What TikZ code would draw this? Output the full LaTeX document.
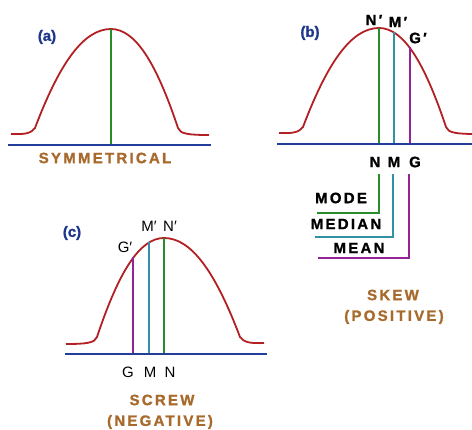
\documentclass[tikz,border=0pt]{standalone}
\usepackage{fontspec}
\setmainfont{Liberation Sans}
\newfontfamily\spacedfont[LetterSpace=15,BoldFeatures={FakeBold=1.2}]{Liberation Sans}
\newfontfamily\tagfont[BoldFeatures={FakeBold=1.2}]{Liberation Sans}
\definecolor{curvered}{RGB}{178,32,36}
\definecolor{baseblue}{RGB}{34,62,154}
\definecolor{modegreen}{RGB}{40,140,40}
\definecolor{medteal}{RGB}{50,145,165}
\definecolor{meanpurple}{RGB}{150,35,150}
\definecolor{titlebrown}{RGB}{168,106,44}
\definecolor{tagblue}{RGB}{30,55,140}
\newcommand\bellshape{(-100,105) .. controls (-86,105.5) and (-80,104.5) .. (-76,99) .. controls (-51,33) and (-27,0) .. (0,0) .. controls (24,0) and (45,33) .. (67,99) .. controls (69,105) and (78,106) .. (98,106)}
\begin{document}
\begin{tikzpicture}[x=1pt,y=-1pt,
  bell/.style={draw=curvered, line width=1.8pt},
  baseline/.style={draw=baseblue, line width=1.8pt},
  modeln/.style={draw=modegreen, line width=1.7pt},
  medln/.style={draw=medteal, line width=1.7pt},
  meanln/.style={draw=meanpurple, line width=1.7pt},
  tag/.style={font=\tagfont\fontsize{15}{17}\selectfont\bfseries, text=tagblue, inner sep=0},
  titletext/.style={font=\spacedfont\fontsize{15}{18}\selectfont\bfseries, text=titlebrown, inner sep=0},
  lab/.style={font=\spacedfont\fontsize{15}{18}\selectfont\bfseries, inner sep=0},
  labreg/.style={font=\fontsize{15}{18}\selectfont, inner sep=0}]
\useasboundingbox (0,0) rectangle (472,430);

% ---------- (a) ----------
\begin{scope}[shift={(111,29)}]
  \draw[bell] \bellshape;
\end{scope}
\coordinate (aL) at (8,145);
\coordinate (aR) at (211,145);
\coordinate (aTop) at (111,29);
\coordinate (aBot) at (111,145);
\draw[modeln] (aTop) -- (aBot);
\draw[baseline] (aL) -- (aR);
\node[tag] (atag) at (47,37) {(a)};
\node[titletext] (asym) at (105,158) {SYMMETRICAL};

% ---------- (b) ----------
\begin{scope}[shift={(379,28)}]
  \draw[bell] \bellshape;
\end{scope}
\coordinate (bL) at (277,144);
\coordinate (bR) at (472,144);
\coordinate (bNtop) at (379,28);
\coordinate (bNbot) at (379,144);
\coordinate (bMtop) at (394,32);
\coordinate (bMbot) at (394,144);
\coordinate (bGtop) at (410,47);
\coordinate (bGbot) at (410,144);
\draw[modeln] (bNtop) -- (bNbot);
\draw[medln] (bMtop) -- (bMbot);
\draw[meanln] (bGtop) -- (bGbot);
\draw[baseline] (bL) -- (bR);
\node[tag] (btag) at (310,33) {(b)};
\node[lab] (bNp) at (374,20) {N′};
\node[lab] (bMp) at (398,22) {M′};
\node[lab] (bGp) at (418,38) {G′};
\node[lab] (bN) at (375,162) {N};
\node[lab] (bM) at (394,162) {M};
\node[lab] (bG) at (415,162) {G};
\node[lab] (mode) at (341,198) {MODE};
\node[lab] (median) at (346,224) {MEDIAN};
\node[lab] (mean) at (359,248) {MEAN};
\coordinate (nS) at (379,174);
\coordinate (nE) at (317,213);
\coordinate (mS) at (393,174);
\coordinate (mE) at (315,237);
\coordinate (gS) at (409,174);
\coordinate (gE) at (318,258);
\draw[modeln] (nS) |- (nE);
\draw[medln] (mS) |- (mE);
\draw[meanln] (gS) |- (gE);
\node[titletext] (skew) at (393,295) {SKEW};
\node[titletext] (pos) at (394,317) {(POSITIVE)};

% ---------- (c) ----------
\begin{scope}[shift={(164,238)}, xscale=-1]
  \draw[bell] \bellshape;
\end{scope}
\coordinate (cL) at (65,354);
\coordinate (cR) at (267,354);
\coordinate (cGtop) at (133,257);
\coordinate (cGbot) at (133,354);
\coordinate (cMtop) at (149,242);
\coordinate (cMbot) at (149,354);
\coordinate (cNtop) at (164,238);
\coordinate (cNbot) at (164,354);
\draw[meanln] (cGtop) -- (cGbot);
\draw[medln] (cMtop) -- (cMbot);
\draw[modeln] (cNtop) -- (cNbot);
\draw[baseline] (cL) -- (cR);
\node[tag] (ctag) at (72,233) {(c)};
\node[labreg] (cGp) at (125,247) {G′};
\node[labreg] (cMp) at (149,226) {M′};
\node[labreg] (cNp) at (170,226) {N′};
\node[labreg] (cG) at (128,372) {G};
\node[labreg] (cM) at (150,372) {M};
\node[labreg] (cN) at (170,372) {N};
\node[titletext] (screw) at (162,400) {SCREW};
\node[titletext] (neg) at (160,422) {(NEGATIVE)};
\end{tikzpicture}
\end{document}
